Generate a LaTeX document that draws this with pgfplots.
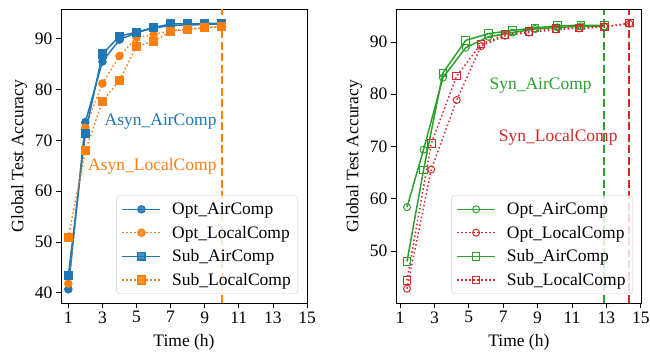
\documentclass[border=0pt]{standalone}
\usepackage{fontspec}
\setmainfont{Liberation Serif}
\usepackage{pgfplots}
\pgfplotsset{compat=1.18}
\definecolor{C0}{HTML}{1F77B4}
\definecolor{C1}{HTML}{FF7F0E}
\definecolor{C2}{HTML}{2CA02C}
\definecolor{C3}{HTML}{D62728}
\newcommand{\fs}{\fontsize{17.5}{20}\selectfont}
\pgfplotsset{
  base/.style={
    scale only axis,
    font=\fs,
    /pgf/number format/assume math mode=true,
    tick pos=left,
    tick align=outside,
    major tick length=5pt,
    tick style={black, line width=0.8pt},
    axis line style={line width=0.8pt},
    xtick={1,3,5,7,9,11,13,15},
    xlabel={Time (h)},
    ylabel={Global Test Accuracy},
    ylabel style={yshift=1pt},
    xlabel style={yshift=-4pt},
    legend cell align=left,
    legend style={at={(1,0)}, anchor=south east, xshift=-9pt, yshift=9pt,
      draw=black!20, rounded corners=3pt, fill=white, fill opacity=0.8, text opacity=1,
      row sep=6pt, inner xsep=5pt, inner ysep=5pt,
      font=\fs},
    legend style={/tikz/every odd column/.append style={column sep=9pt}},
    legend image code/.code={\draw[mark repeat=2,mark phase=2] plot coordinates {(0pt,0pt) (19pt,0pt) (38pt,0pt)};},
  },
  airline/.style={line width=1.5pt, solid},
  locline/.style={line width=1.5pt, dash pattern=on 1.5pt off 2.5pt},
  vline/.style={line width=1.6pt, dash pattern=on 8pt off 3.5pt, forget plot},
}
\begin{document}
\begin{tikzpicture}
\begin{axis}[base, name=left,
  width=246pt, height=294pt,
  xmin=0.57, xmax=15, ymin=38, ymax=95.85,
  ytick={40,50,60,70,80,90},
]
\addplot[C1, vline] coordinates {(10,38) (10,95.85)};
\addplot[C0, airline, mark=*, mark size=3.5pt, mark options={solid}] coordinates {
(1,40.7) (2,73.6) (3,85.5) (4,89.8) (5,91.2) (6,92.1) (7,92.6) (8,92.7) (9,92.8) (10,92.9)};
\addlegendentry{Opt\_AirComp}
\addplot[C1, locline, mark=*, mark size=3.5pt, mark options={solid}] coordinates {
(1,41.8) (2,72.5) (3,81.2) (4,86.6) (5,90.2) (6,90.8) (7,91.6) (8,91.8) (9,92.2) (10,92.3)};
\addlegendentry{Opt\_LocalComp}
\addplot[C0, airline, mark=square*, mark size=3.8pt, mark options={solid}] coordinates {
(1,43.4) (2,71.4) (3,87.0) (4,90.5) (5,91.3) (6,92.2) (7,92.9) (8,92.9) (9,93.0) (10,93.0)};
\addlegendentry{Sub\_AirComp}
\addplot[C1, locline, mark=square*, mark size=3.8pt, mark options={solid}] coordinates {
(1,50.9) (2,68.0) (3,77.7) (4,81.8) (5,88.5) (6,89.5) (7,91.5) (8,91.8) (9,92.2) (10,92.4)};
\addlegendentry{Sub\_LocalComp}
\node[anchor=east, text=C0, font=\fs] at (axis cs:9.9,73.7) {Asyn\_AirComp};
\node[anchor=east, text=C1, font=\fs] at (axis cs:9.9,64.8) {Asyn\_LocalComp};
\end{axis}
\begin{axis}[base, name=right, at={(335pt,0pt)},
  width=245.7pt, height=293.4pt,
  xmin=0.77, xmax=15.05, ymin=40.06, ymax=96.2,
  ytick={50,60,70,80,90},
]
\addplot[C2, vline] coordinates {(12.85,40.06) (12.85,96.2)};
\addplot[C3, vline] coordinates {(14.3,40.06) (14.3,96.2)};
\addplot[C2, airline, mark=o, mark size=3.5pt, mark options={solid, line width=1pt}] coordinates {
(1.41,58.4) (2.37,69.4) (3.50,83.2) (4.82,88.9) (6.14,91.0) (7.53,91.8) (8.85,92.5) (10.15,92.8) (11.53,93.0) (12.87,93.0)};
\addlegendentry{Opt\_AirComp}
\addplot[C3, locline, mark=o, mark size=3.5pt, mark options={solid, line width=1pt}] coordinates {
(1.41,42.8) (2.82,65.6) (4.30,78.9) (5.71,89.2) (7.11,91.2) (8.50,91.8) (10.06,92.4) (11.41,92.6) (12.88,92.9) (14.33,93.5)};
\addlegendentry{Opt\_LocalComp}
\addplot[C2, airline, mark=square, mark size=3.8pt, mark options={solid, line width=1pt}] coordinates {
(1.41,48.0) (2.37,65.5) (3.50,84.1) (4.82,90.3) (6.14,91.6) (7.53,92.2) (8.85,92.7) (10.15,93.1) (11.53,93.2) (12.87,93.2)};
\addlegendentry{Sub\_AirComp}
\addplot[C3, locline, mark=square, mark size=3.8pt, mark options={solid, line width=1pt}] coordinates {
(1.41,44.4) (2.82,70.6) (4.30,83.5) (5.71,89.6) (7.11,91.4) (8.50,92.0) (10.06,92.6) (11.41,92.7) (12.88,92.9) (14.33,93.6)};
\addlegendentry{Sub\_LocalComp}
\node[anchor=east, text=C2, font=\fs] at (axis cs:12.35,81.7) {Syn\_AirComp};
\node[anchor=east, text=C3, font=\fs] at (axis cs:13.85,71.7) {Syn\_LocalComp};
\end{axis}
\pgfresetboundingbox
\path (left.south west) ++(-61pt,-52pt) rectangle ++(650pt,355pt);
\end{tikzpicture}
\end{document}
